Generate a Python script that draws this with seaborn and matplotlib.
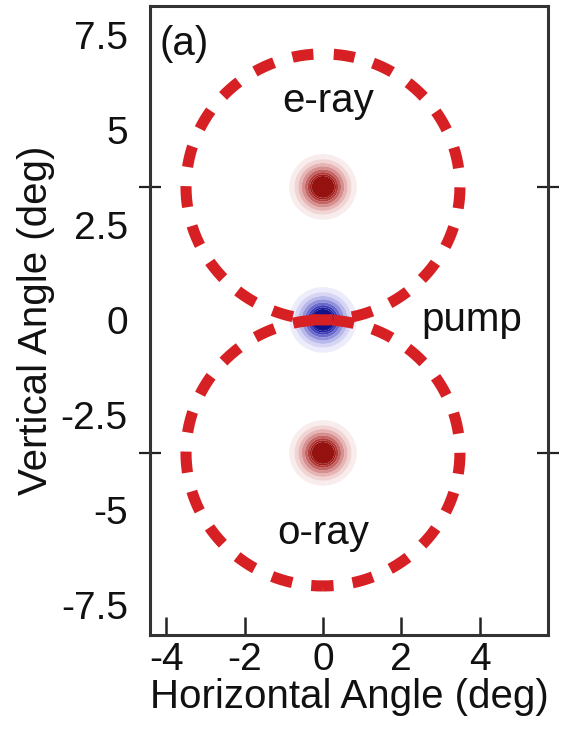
import numpy as np
import pandas as pd
import matplotlib
matplotlib.use("Agg")
import matplotlib.pyplot as plt
import seaborn as sns

# Dashed emission rings (degrees)
ring_names = ["e-ray", "o-ray"]
ring_center_x = [0.0, 0.0]
ring_center_y = [3.5, -3.5]
ring_radius = [3.5, 3.5]

# Gaussian beam spots (degrees)
spot_names = ["e-ray spot", "pump spot", "o-ray spot"]
spot_x = [0.0, 0.0, 0.0]
spot_y = [3.5, 0.0, -3.5]
spot_sigma = [0.34, 0.34, 0.34]
spot_kind = ["signal", "pump", "signal"]

# Axis ticks
xticks = [-4, -2, 0, 2, 4]
xtick_labels = ["-4", "-2", "0", "2", "4"]
yticks = [-7.5, -5, -2.5, 0, 2.5, 5, 7.5]
ytick_labels = ["-7.5", "-5", "-2.5", "0", "2.5", "5", "7.5"]
ymark_ticks = [-3.5, 0, 3.5]

# Annotations
note_text = ["(a)", "e-ray", "pump", "o-ray"]
note_x = [-3.55, 0.12, 3.8, 0.0]
note_y = [7.25, 5.75, 0.0, -5.6]

sns.set_theme(style="ticks")
plt.rcParams["font.family"] = ["Liberation Sans", "DejaVu Sans"]

FS = 29
RING_RED = "#d62024"
spot_colors = {
    "signal": ["#f9ecec", "#f1d4d4", "#e6b4b4", "#d68e8e", "#c46464",
               "#b23c3a", "#a01e1a", "#941210"],
    "pump": ["#ececfa", "#d6d6f4", "#b8b8ea", "#9292dc", "#6a6acc",
             "#4040b8", "#2020a0", "#12128a"],
}
levels = [0.04, 0.1, 0.18, 0.28, 0.4, 0.52, 0.62, 0.7, 1.01]

fig = plt.figure(figsize=(5.75, 7.36), dpi=100)
ax = fig.add_axes([150 / 575, 1 - 635 / 736, (548 - 150) / 575, (635 - 6) / 736])

# Beam spots as filled Gaussian contours
g = np.linspace(-1.4, 1.4, 351)
GX, GY = np.meshgrid(g, g)
for sx, sy, sg, kind in zip(spot_x, spot_y, spot_sigma, spot_kind):
    Z = np.exp(-(GX ** 2 + GY ** 2) / (2 * sg ** 2))
    ax.contourf(GX + sx, GY + sy, Z, levels=levels, colors=spot_colors[kind],
                zorder=1, antialiased=True)

# Dashed rings: upper ring starts at its top on a gap, lower ring at its bottom on a dash
LW = 8.0
ON, OFF = 1.9, 1.73
theta = np.linspace(0, 2 * np.pi, 721)
for name, cx, cy, r in zip(ring_names, ring_center_x, ring_center_y, ring_radius):
    if cy > 0:
        start, offset = np.pi / 2, ON + OFF / 2
    else:
        start, offset = -np.pi / 2, ON / 2
    t = theta + start
    ring = pd.DataFrame({"x": cx + r * np.cos(t), "y": cy + r * np.sin(t)})
    sns.lineplot(data=ring, x="x", y="y", sort=False, estimator=None,
                 color=RING_RED, lw=LW, ax=ax, zorder=2)
    ax.lines[-1].set_linestyle((offset, (ON, OFF)))
    ax.lines[-1].set_dash_capstyle("butt")

for txt, tx, ty in zip(note_text, note_x, note_y):
    ax.text(tx, ty, txt, fontsize=FS, ha="center", va="center", color="#111111",
            zorder=3)

ax.set_xlim(-4.42, 5.75)
ax.set_ylim(-8.29, 8.26)

ax.set_xticks(xticks)
ax.set_xticklabels(xtick_labels)
ax.set_yticks(yticks)
ax.set_yticklabels(ytick_labels)
ax.set_yticks(ymark_ticks, minor=True)

ax.tick_params(axis="x", which="major", bottom=True, top=False, direction="in",
               length=13, width=1.8, labelsize=FS - 1, pad=5,
               color="#222222", labelcolor="#111111")
ax.tick_params(axis="y", which="major", length=0, labelsize=FS - 1, pad=16,
               labelcolor="#111111")
ax.tick_params(axis="y", which="minor", direction="inout", length=16, width=1.6,
               left=True, right=True, color="#222222")

for s in ax.spines.values():
    s.set_linewidth(2.2)
    s.set_color("#333333")

ax.set_xlabel("Horizontal Angle (deg)", fontsize=FS, labelpad=0, color="#111111")
ax.set_ylabel("Vertical Angle (deg)", fontsize=FS, labelpad=4, color="#111111")

fig.savefig("out.png", dpi=100)
